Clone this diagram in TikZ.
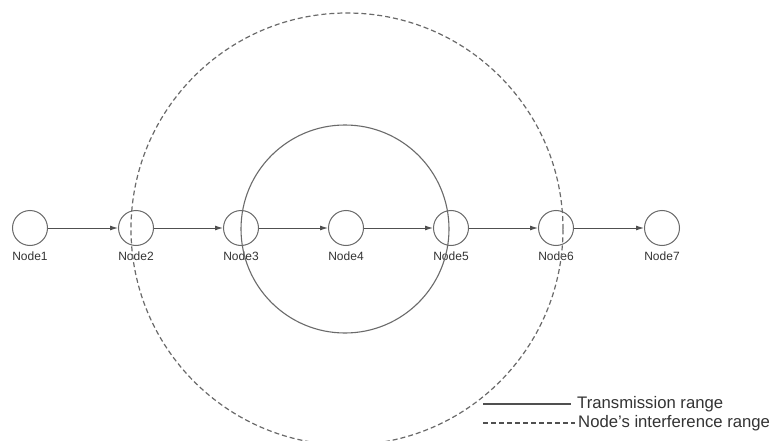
\documentclass[tikz,border=0pt]{standalone}
\usepackage{fontspec}
\setmainfont{Liberation Sans}
\usetikzlibrary{arrows.meta}
\definecolor{linegray}{HTML}{505050}
\definecolor{ringgray}{HTML}{6A6A6A}
\definecolor{textgray}{HTML}{333333}
\tikzset{
  hop/.style={circle, draw=ringgray, line width=1pt, minimum size=35pt, inner sep=0pt},
  hoplabel/.style={text=textgray, font=\fontsize{12}{14}\selectfont, inner sep=0pt},
  link/.style={draw=linegray, line width=1pt, -{Latex[length=8pt,width=5pt]}},
  txrange/.style={draw=ringgray, line width=1.1pt},
  ifrange/.style={draw=ringgray, line width=1.2pt, dash pattern=on 5pt off 3pt},
  legendtext/.style={text=textgray, font=\fontsize{16.7}{19}\selectfont, anchor=west, inner sep=0pt}
}
\begin{document}
\begin{tikzpicture}[x=1pt, y=-1pt]
  \useasboundingbox (0,0) rectangle (776,441);
  \fill[white] (0,0) rectangle (776,441);

  % relay chain
  \foreach \i/\x in {1/30, 2/136, 3/241, 4/346, 5/451, 6/556, 7/662} {
    \node[hop] (n\i) at (\x,228) {};
    \node[hoplabel] (l\i) at (\x,256) {Node\i};
  }
  \foreach \a/\b in {1/2, 2/3, 3/4, 4/5, 5/6, 6/7} {
    \draw[link] (n\a) -- (n\b);
  }

  % ranges around Node4
  \begin{scope}
    \clip (0,0) rectangle (776,441);
    \draw[txrange] (345,229) circle[radius=104pt];
    \draw[ifrange] (347,229) circle[radius=216pt];
  \end{scope}

  % legend
  \coordinate (ta) at (483,404);
  \coordinate (tb) at (571,404);
  \coordinate (ia) at (483,423);
  \coordinate (ib) at (575,423);
  \draw[draw=linegray, line width=1.4pt] (ta) -- (tb);
  \draw[draw=linegray, line width=1.4pt, dash pattern=on 5pt off 3pt] (ia) -- (ib);
  \node[legendtext] (lt) at (577,404) {Transmission range};
  \node[legendtext] (li) at (578,423) {Node's interference range};
\end{tikzpicture}
\end{document}
